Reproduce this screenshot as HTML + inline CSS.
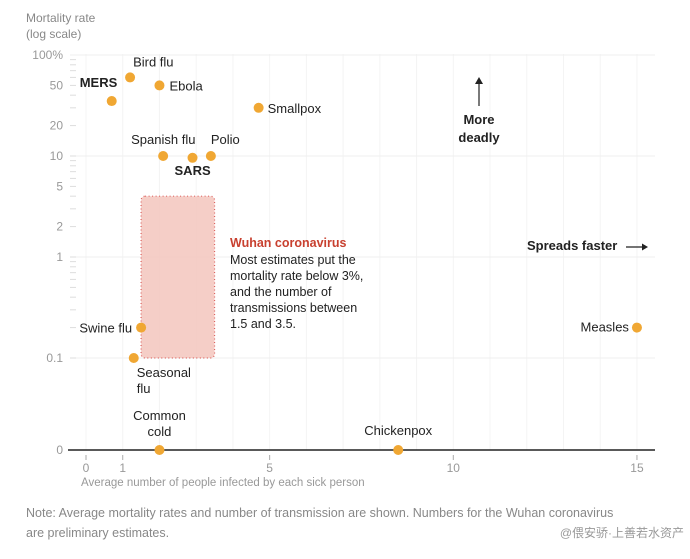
<!DOCTYPE html>
<html><head><meta charset="utf-8"><style>
body{margin:0;background:#fff;}
svg{font-family:"Liberation Sans",sans-serif;}
</style></head><body>
<svg width="690" height="554">
<script>
const names=["MERS","Bird flu","Ebola","Smallpox","Spanish flu","SARS","Polio","Swine flu","Seasonal flu","Common cold","Chickenpox","Measles"];
const spread=[0.7,1.2,2,4.7,2.1,2.9,3.4,1.5,1.3,2,8.5,15];
const mortality=[35,60,50,30,10,9.6,10,0.2,0.1,0,0,0.2];
const yTicks=[100,50,20,10,5,2,1,0.1];
const yTickLabels=["100%","50","20","10","5","2","1","0.1"];
const xTicks=[0,1,5,10,15];
</script>
<g id="g"></g>
<script>
const NS="http://www.w3.org/2000/svg";
const g=document.getElementById('g');
function X(v){return 86+v*36.73;}
function Y(v){return v===0?450:257-101*Math.log10(v);}
function el(t,a,txt){const e=document.createElementNS(NS,t);for(const k in a)e.setAttribute(k,a[k]);if(txt!==undefined)e.textContent=txt;g.appendChild(e);return e;}
for(let i=0;i<=15;i++){const l=el('line',{x1:X(i),x2:X(i),y1:54,y2:450,stroke:'#f4f4f4','stroke-width':1});

}
[100,10,1,0.1].forEach(v=>{const l=el('line',{x1:70,x2:655,y1:Y(v),y2:Y(v),stroke:'#efefef','stroke-width':1});

});
for(let d=-1;d<2;d++)for(let m=1;m<10;m++){const v=m*Math.pow(10,d);const t=el('line',{x1:70,x2:76,y1:Y(v),y2:Y(v),stroke:'#ddd'});

}
yTicks.forEach((v,i)=>{const t=el('text',{x:63,y:Y(v)+4,'text-anchor':'end','font-size':12,fill:'#999'},yTickLabels[i]);

});
let z=el('text',{x:63,y:454,'text-anchor':'end','font-size':12,fill:'#999'},'0');


let zl=el('line',{x1:68,x2:655,y1:450,y2:450,stroke:'#222','stroke-width':1.5});


xTicks.forEach(v=>{const tk=el('line',{x1:X(v),x2:X(v),y1:455,y2:460,stroke:'#aaa'});


const t=el('text',{x:X(v),y:472,'text-anchor':'middle','font-size':12,fill:'#999'},String(v));

});
let bx=el('rect',{x:X(1.5),y:Y(4),width:X(3.5)-X(1.5),height:Y(0.1)-Y(4),fill:'#f5c9c2',stroke:'#d9534f','stroke-width':1.2,'stroke-dasharray':'1 2.5',rx:4,opacity:0.9});


const lab={ "MERS":[-32,-14,'start',true],"Bird flu":[3,-11,'start'],"Ebola":[10,5,'start'],"Smallpox":[9,5,'start'],"Spanish flu":[-32,-12,'start'],"SARS":[-18,17,'start',true],"Polio":[0,-12,'start'],"Swine flu":[-9,5,'end'],"Seasonal flu":[3,19,'start'],"Common cold":[0,-30,'middle'],"Chickenpox":[0,-15,'middle'],"Measles":[-8,4,'end']};
names.forEach((n,i)=>{const c=el('circle',{cx:X(spread[i]),cy:Y(mortality[i]),r:5,fill:'#f0a733'});


const L=lab[n];const a={x:X(spread[i])+L[0],y:Y(mortality[i])+L[1],'text-anchor':L[2],'font-size':13,fill:'#222'};if(L[3])a['font-weight']='bold';
if(n==='Seasonal flu'||n==='Common cold'){const t=el('text',a);const w=n.split(' ');
const s1=document.createElementNS(NS,'tspan');s1.setAttribute('x',a.x);s1.textContent=w[0];t.appendChild(s1);
const s2=document.createElementNS(NS,'tspan');s2.setAttribute('x',a.x);s2.setAttribute('dy',16);s2.textContent=w[1];t.appendChild(s2);

}
else{const t=el('text',a,n);

}});
</script>
<text x="26" y="22" font-size="12" fill="#888">Mortality rate</text>
<text x="26" y="38" font-size="12" fill="#888">(log scale)</text>
<text x="81" y="486" font-size="11.5" fill="#999">Average number of people infected by each sick person</text>
<g font-size="12.5" fill="#222">
<text x="230" y="247" fill="#c8402f" font-weight="bold">Wuhan coronavirus</text>
<text x="230" y="264">Most estimates put the</text>
<text x="230" y="280">mortality rate below 3%,</text>
<text x="230" y="296">and the number of</text>
<text x="230" y="312">transmissions between</text>
<text x="230" y="328">1.5 and 3.5.</text>
</g>
<g>
<line x1="479" y1="106" x2="479" y2="82" stroke="#222" stroke-width="1.2"/>
<polygon points="475,84 479,77 483,84" fill="#222"/>
<text x="479" y="124" font-size="13" font-weight="bold" text-anchor="middle" fill="#222">More</text>
<text x="479" y="142" font-size="13" font-weight="bold" text-anchor="middle" fill="#222">deadly</text>
</g>
<g>
<text x="527" y="250" font-size="13" font-weight="bold" fill="#222">Spreads faster</text>
<line x1="626" y1="247" x2="644" y2="247" stroke="#222" stroke-width="1.2"/>
<polygon points="642,243.5 648,247 642,250.5" fill="#222"/>
</g>
<text x="26" y="517" font-size="12.5" fill="#888">Note: Average mortality rates and number of transmission are shown. Numbers for the Wuhan coronavirus</text>
<text x="26" y="537" font-size="12.5" fill="#888">are preliminary estimates.</text>
<text x="684" y="537" font-size="12" fill="#999" text-anchor="end" font-family="Liberation Sans, Noto Sans CJK SC, sans-serif">@偎安骄·上善若水资产</text>
</svg>
</body></html>
